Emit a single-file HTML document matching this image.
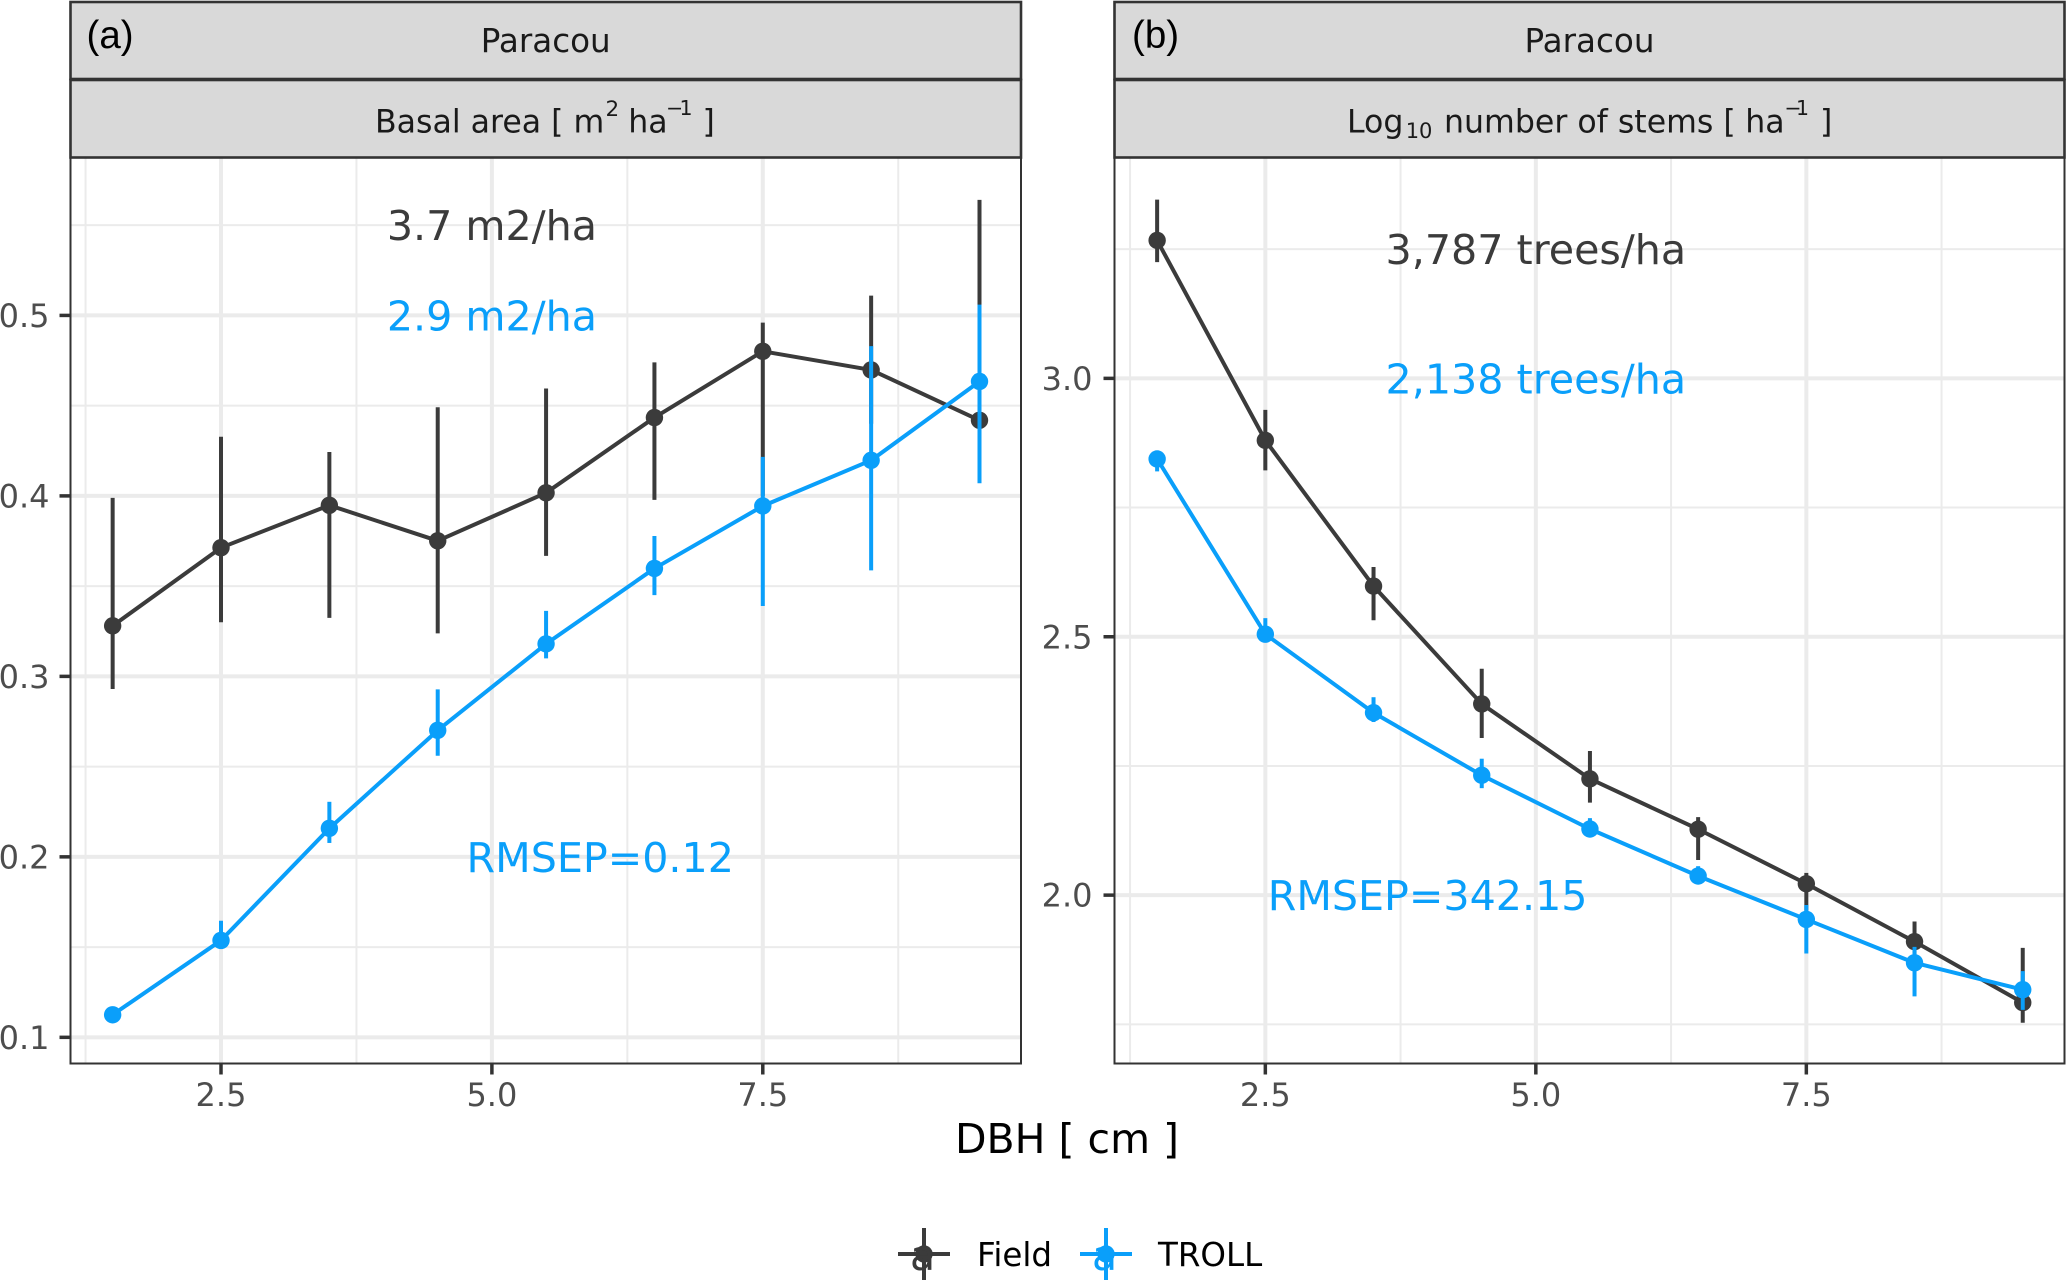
<!DOCTYPE html>
<html lang="en">
<head>
<meta charset="utf-8">
<title>Paracou: basal area and stems by DBH</title>
<style>
html,body{margin:0;padding:0;background:#fff;}
svg{display:block;}
text{font-family:"DejaVu Sans","Liberation Sans",sans-serif;white-space:pre;}
</style>
</head>
<body>
<svg id="figure" xmlns="http://www.w3.org/2000/svg" width="2067" height="1281" viewBox="0 0 2067 1281">
  <rect x="0" y="0" width="2067" height="1281" fill="#ffffff"/>

  <g id="panel-a"></g>
  <g id="panel-b"></g>

  <g>
    <rect x="70.5" y="2" width="950.5" height="77" fill="#d9d9d9" stroke="#333333" stroke-width="2.6"/>
    <rect x="70.5" y="80" width="950.5" height="77.5" fill="#d9d9d9" stroke="#333333" stroke-width="2.6"/>
    <text x="86.5" y="48" font-size="38.5" fill="#000000" style="font-family:'Liberation Sans',sans-serif">(a)</text>
    <text x="545.7" y="52" font-size="32.6" fill="#1a1a1a" text-anchor="middle">Paracou</text>
    <text font-size="31.6" fill="#1a1a1a"><tspan x="375" y="132.5">Basal area [ m</tspan><tspan x="605.5" y="116" font-size="21.5">2</tspan><tspan x="628.2" y="132.5">ha</tspan><tspan x="666" y="115" font-size="20.5">−</tspan><tspan x="679.5" y="115" font-size="20.5">1</tspan><tspan x="702.5" y="132.5">]</tspan></text>
  </g>

  <g>
    <rect x="1114.5" y="2" width="950" height="77" fill="#d9d9d9" stroke="#333333" stroke-width="2.6"/>
    <rect x="1114.5" y="80" width="950" height="77.5" fill="#d9d9d9" stroke="#333333" stroke-width="2.6"/>
    <text x="1132" y="48" font-size="38.5" fill="#000000" style="font-family:'Liberation Sans',sans-serif">(b)</text>
    <text x="1589.5" y="52" font-size="32.6" fill="#1a1a1a" text-anchor="middle">Paracou</text>
    <text font-size="31.6" fill="#1a1a1a"><tspan x="1347" y="132.5">Log</tspan><tspan x="1405.7" y="138" font-size="21">10</tspan><tspan x="1444" y="132.5">number of stems [</tspan><tspan x="1745.2" y="132.5">ha</tspan><tspan x="1784.4" y="115" font-size="20.5">−</tspan><tspan x="1796" y="115" font-size="20.5">1</tspan><tspan x="1820" y="132.5">]</tspan></text>
  </g>

  <text x="1067" y="1153" font-size="41" fill="#000000" text-anchor="middle">DBH [ cm ]</text>

  <g>
    <g>
      <line x1="898" y1="1254" x2="950" y2="1254" stroke="#3b3b3b" stroke-width="4"/>
      <line x1="924" y1="1228" x2="924" y2="1280" stroke="#3b3b3b" stroke-width="4"/>
      <circle cx="924" cy="1254" r="8.7" fill="#3b3b3b"/>
      <text x="922.5" y="1270" font-size="41" fill="#3b3b3b" text-anchor="middle">a</text>
      <text x="977" y="1266" font-size="32.5" fill="#000000">Field</text>
    </g>
    <g>
      <line x1="1080" y1="1254" x2="1132" y2="1254" stroke="#0a9ffa" stroke-width="4"/>
      <line x1="1106" y1="1228" x2="1106" y2="1280" stroke="#0a9ffa" stroke-width="4"/>
      <circle cx="1106" cy="1254" r="8.7" fill="#0a9ffa"/>
      <text x="1104.5" y="1270" font-size="41" fill="#0a9ffa" text-anchor="middle">a</text>
      <text x="1158" y="1266" font-size="32.5" fill="#000000">TROLL</text>
    </g>
  </g>
</svg>

<script>
// Shared x categories and tick labels
const dbhClasses = [1.5, 2.5, 3.5, 4.5, 5.5, 6.5, 7.5, 8.5, 9.5];
const xMajorTicks = ['2.5', '5.0', '7.5'];
const xMinorTicks = [1.25, 3.75, 6.25, 8.75];

// Panel (a): basal area
const basalFieldMean = [0.328, 0.3713, 0.3948, 0.3751, 0.4017, 0.4434, 0.4801, 0.4698, 0.4419];
const basalFieldLow  = [0.293, 0.330, 0.3324, 0.3238, 0.3668, 0.3978, 0.40, 0.44, 0.42];
const basalFieldHigh = [0.3989, 0.4328, 0.4243, 0.4491, 0.4595, 0.474, 0.496, 0.511, 0.564];
const basalTrollMean = [0.1125, 0.1537, 0.2158, 0.2701, 0.318, 0.3598, 0.3944, 0.4197, 0.4634];
const basalTrollLow  = [0.110, 0.150, 0.2077, 0.256, 0.31, 0.345, 0.339, 0.3587, 0.407];
const basalTrollHigh = [0.115, 0.1646, 0.2305, 0.2928, 0.3363, 0.3778, 0.4216, 0.483, 0.506];
const basalMajorTicks = ['0.1', '0.2', '0.3', '0.4', '0.5'];
const basalMinorTicks = [0.15, 0.25, 0.35, 0.45, 0.55];

// Panel (b): log10 number of stems
const stemsFieldMean = [3.267, 2.880, 2.598, 2.370, 2.225, 2.1275, 2.022, 1.910, 1.792];
const stemsFieldLow  = [3.225, 2.822, 2.532, 2.304, 2.179, 2.068, 1.97, 1.87, 1.753];
const stemsFieldHigh = [3.346, 2.939, 2.635, 2.438, 2.279, 2.151, 2.043, 1.949, 1.898];
const stemsTrollMean = [2.844, 2.505, 2.353, 2.232, 2.128, 2.037, 1.953, 1.869, 1.817];
const stemsTrollLow  = [2.82, 2.49, 2.335, 2.207, 2.115, 2.03, 1.887, 1.804, 1.778];
const stemsTrollHigh = [2.85, 2.536, 2.383, 2.264, 2.149, 2.056, 1.981, 1.90, 1.853];
const stemsMajorTicks = ['2.0', '2.5', '3.0'];
const stemsMinorTicks = [1.75, 2.25, 2.75, 3.25];

const FIELD_COLOR = '#3b3b3b';
const TROLL_COLOR = '#0a9ffa';
const GRID_COLOR = '#ebebeb';
const SVG_NS = 'http://www.w3.org/2000/svg';

function make(tag, attrs, parent, content) {
  const node = document.createElementNS(SVG_NS, tag);
  for (const key in attrs) node.setAttribute(key, attrs[key]);
  if (content !== undefined) node.textContent = content;
  parent.appendChild(node);
  return node;
}

function drawSeries(group, x, y, mean, low, high, color, prefix) {
  dbhClasses.forEach(function (c, i) {
    const bar = make('line', {x1: x(c), x2: x(c), y1: y(low[i]), y2: y(high[i]), stroke: color, 'stroke-width': 4}, group);
    
    
  });
  const pts = dbhClasses.map(function (c, i) { return x(c) + ',' + y(mean[i]); }).join(' ');
  const path = make('polyline', {points: pts, fill: 'none', stroke: color, 'stroke-width': 4, 'stroke-linejoin': 'round'}, group);
  
  
  dbhClasses.forEach(function (c, i) {
    const dot = make('circle', {cx: x(c), cy: y(mean[i]), r: 8.7, fill: color}, group);
    
    
  });
}

function drawPanel(group, box, xDomain, yDomain, yMajor, yMinor, field, troll, labelEndX) {
  const x = function (v) { return box.left + (v - xDomain[0]) / (xDomain[1] - xDomain[0]) * (box.right - box.left); };
  const y = function (v) { return box.bottom - (v - yDomain[0]) / (yDomain[1] - yDomain[0]) * (box.bottom - box.top); };

  const bg = make('rect', {x: box.left, y: box.top, width: box.right - box.left, height: box.bottom - box.top, fill: '#ffffff'}, group);
  
  

  yMinor.forEach(function (v) {
    const g1 = make('line', {x1: box.left, x2: box.right, y1: y(v), y2: y(v), stroke: GRID_COLOR, 'stroke-width': 2}, group);
    
    
  });
  xMinorTicks.forEach(function (v) {
    const g2 = make('line', {x1: x(v), x2: x(v), y1: box.top, y2: box.bottom, stroke: GRID_COLOR, 'stroke-width': 2}, group);
    
    
  });
  yMajor.forEach(function (label) {
    const v = Number(label);
    const g3 = make('line', {x1: box.left, x2: box.right, y1: y(v), y2: y(v), stroke: GRID_COLOR, 'stroke-width': 4}, group);
    
    
  });
  xMajorTicks.forEach(function (label) {
    const v = Number(label);
    const g4 = make('line', {x1: x(v), x2: x(v), y1: box.top, y2: box.bottom, stroke: GRID_COLOR, 'stroke-width': 4}, group);
    
    
  });

  drawSeries(group, x, y, field.mean, field.low, field.high, FIELD_COLOR, 'field');
  drawSeries(group, x, y, troll.mean, troll.low, troll.high, TROLL_COLOR, 'troll');

  const border = make('rect', {x: box.left, y: box.top, width: box.right - box.left, height: box.bottom - box.top, fill: 'none', stroke: '#333333', 'stroke-width': 2}, group);
  
  

  yMajor.forEach(function (label) {
    const v = Number(label);
    const t1 = make('line', {x1: box.left - 11, x2: box.left, y1: y(v), y2: y(v), stroke: '#333333', 'stroke-width': 3.5}, group);
    
    
    const l1 = make('text', {x: labelEndX, y: y(v) + 11.5, 'font-size': 32, fill: '#4d4d4d', 'text-anchor': 'end'}, group, label);
    
    
  });
  xMajorTicks.forEach(function (label) {
    const v = Number(label);
    const t2 = make('line', {x1: x(v), x2: x(v), y1: box.bottom, y2: box.bottom + 11, stroke: '#333333', 'stroke-width': 3.5}, group);
    
    
    const l2 = make('text', {x: x(v), y: 1106, 'font-size': 32, fill: '#4d4d4d', 'text-anchor': 'middle'}, group, label);
    
    
  });

  return {x: x, y: y};
}

function annotate(group, scales, atX, atY, text, color, name) {
  const a = make('text', {x: scales.x(atX), y: scales.y(atY) + 15, 'font-size': 41.2, fill: color, 'text-anchor': 'middle'}, group, text);
  
  
}

const panelA = document.getElementById('panel-a');
const panelB = document.getElementById('panel-b');

const scalesA = drawPanel(panelA,
  {left: 70.5, right: 1021, top: 157.5, bottom: 1063.5},
  [1.111, 9.883], [0.0855, 0.5875], basalMajorTicks, basalMinorTicks,
  {mean: basalFieldMean, low: basalFieldLow, high: basalFieldHigh},
  {mean: basalTrollMean, low: basalTrollLow, high: basalTrollHigh}, 49.5);

const scalesB = drawPanel(panelB,
  {left: 1114.5, right: 2064.5, top: 157.5, bottom: 1063.5},
  [1.106, 9.886], [1.6742, 3.4274], stemsMajorTicks, stemsMinorTicks,
  {mean: stemsFieldMean, low: stemsFieldLow, high: stemsFieldHigh},
  {mean: stemsTrollMean, low: stemsTrollLow, high: stemsTrollHigh}, 1092.5);

annotate(panelA, scalesA, 5, 0.55, '3.7 m2/ha', FIELD_COLOR, 'field-total-annotation');
annotate(panelA, scalesA, 5, 0.5, '2.9 m2/ha', TROLL_COLOR, 'troll-total-annotation');
annotate(panelA, scalesA, 6, 0.2, 'RMSEP=0.12', TROLL_COLOR, 'rmsep-annotation');
annotate(panelB, scalesB, 5, 3.25, '3,787 trees/ha', FIELD_COLOR, 'field-total-annotation');
annotate(panelB, scalesB, 5, 3.0, '2,138 trees/ha', TROLL_COLOR, 'troll-total-annotation');
annotate(panelB, scalesB, 4, 2.0, 'RMSEP=342.15', TROLL_COLOR, 'rmsep-annotation');
</script>
</body>
</html>
